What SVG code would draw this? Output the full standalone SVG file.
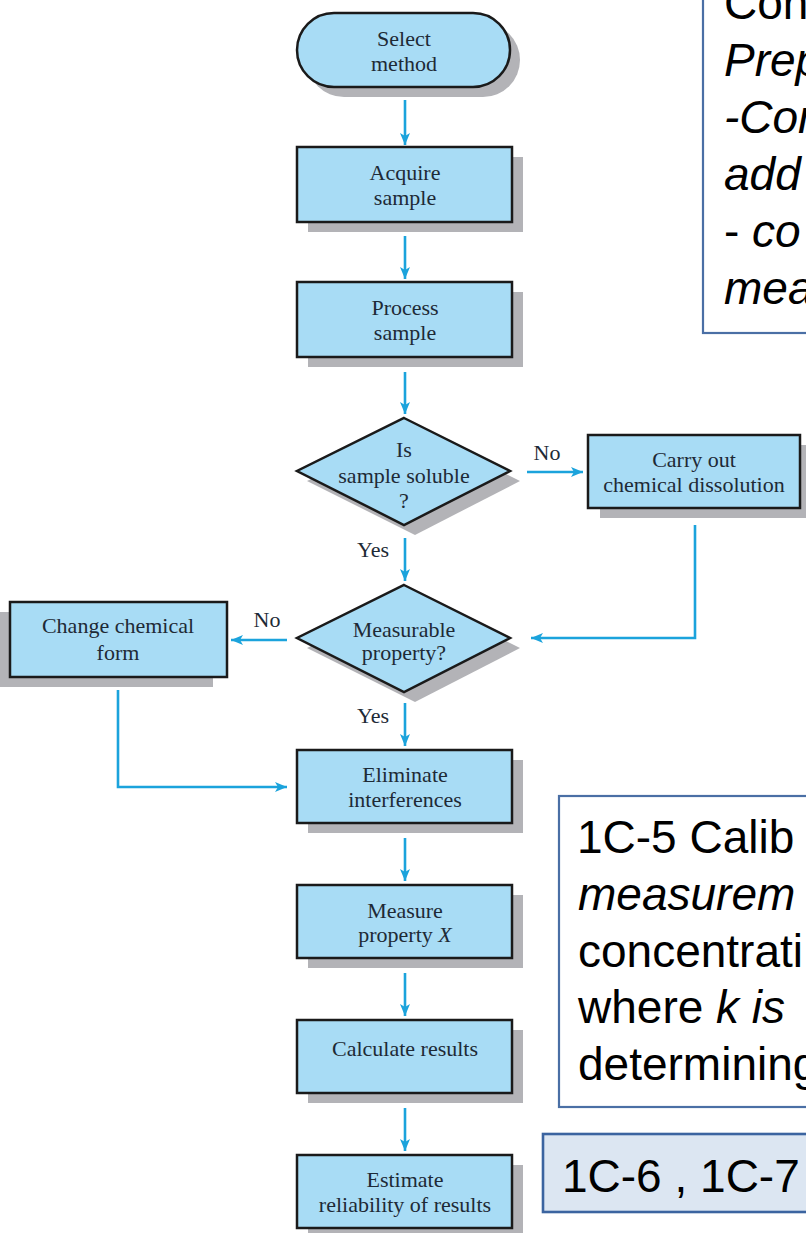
<svg xmlns="http://www.w3.org/2000/svg" width="806" height="1233" viewBox="0 0 806 1233">
<defs>
<style>
.node{fill:#a8dcf5;stroke:#1a1a1a;stroke-width:2.5}
.shadow{fill:#b3b3b7}
.lbl{font-family:"Liberation Serif","Times New Roman",serif;font-size:22px;fill:#1e2a36;text-anchor:middle}
.conn{fill:none;stroke:#1ba3dc;stroke-width:2.6}
.note{font-family:"Liberation Sans",Arial,sans-serif;font-size:46px;fill:#000}
.it{font-style:italic}
.box{fill:#fff;stroke:#4a6fa5;stroke-width:2.2}
</style>
<marker id="ah" markerUnits="userSpaceOnUse" markerWidth="13" markerHeight="10" refX="12" refY="5" orient="auto">
<path d="M0,0 L12,5 L0,10 L3,5 z" fill="#1ba3dc"/>
</marker>
</defs>
<rect width="806" height="1233" fill="#fff"/>

<g id="connectors">
<line class="conn" x1="405" y1="100" x2="405" y2="145" marker-end="url(#ah)"/>
<line class="conn" x1="405" y1="236" x2="405" y2="279" marker-end="url(#ah)"/>
<line class="conn" x1="405" y1="372" x2="405" y2="414" marker-end="url(#ah)"/>
<line class="conn" x1="405" y1="538" x2="405" y2="581" marker-end="url(#ah)"/>
<line class="conn" x1="405" y1="703" x2="405" y2="746" marker-end="url(#ah)"/>
<line class="conn" x1="405" y1="838" x2="405" y2="881" marker-end="url(#ah)"/>
<line class="conn" x1="405" y1="973" x2="405" y2="1016" marker-end="url(#ah)"/>
<line class="conn" x1="405" y1="1108" x2="405" y2="1151" marker-end="url(#ah)"/>
<line class="conn" x1="527" y1="472" x2="583" y2="472" marker-end="url(#ah)"/>
<polyline class="conn" points="695,525 695,638 531,638" marker-end="url(#ah)"/>
<line class="conn" x1="287" y1="640" x2="231" y2="640" marker-end="url(#ah)"/>
<polyline class="conn" points="118,690 118,787 287,787" marker-end="url(#ah)"/>
<text class="lbl" x="547" y="460">No</text>
<text class="lbl" x="373" y="557">Yes</text>
<text class="lbl" x="267" y="627">No</text>
<text class="lbl" x="373" y="723">Yes</text>
</g>

<g id="select-method">
<rect class="shadow" x="307" y="23" width="213" height="74" rx="37"/>
<rect class="node" x="297" y="13" width="213" height="74" rx="37"/>
<text class="lbl" x="404" y="46">Select</text>
<text class="lbl" x="404" y="71">method</text>
</g>

<g id="acquire-sample">
<rect class="shadow" x="308" y="157" width="215" height="75"/>
<rect class="node" x="297" y="147" width="215" height="75"/>
<text class="lbl" x="405" y="180">Acquire</text>
<text class="lbl" x="405" y="205">sample</text>
</g>

<g id="process-sample">
<rect class="shadow" x="308" y="292" width="215" height="75"/>
<rect class="node" x="297" y="282" width="215" height="75"/>
<text class="lbl" x="405" y="315">Process</text>
<text class="lbl" x="405" y="340">sample</text>
</g>

<g id="is-soluble">
<polygon class="shadow" points="415,428 520,481 415,535 307,481"/>
<polygon class="node" points="404,418 510,471 404,525 297,471"/>
<text class="lbl" x="404" y="457">Is</text>
<text class="lbl" x="404" y="483">sample soluble</text>
<text class="lbl" x="404" y="508">?</text>
</g>

<g id="chemical-dissolution">
<rect class="shadow" x="600" y="445" width="212" height="73"/>
<rect class="node" x="588" y="435" width="212" height="73"/>
<text class="lbl" x="694" y="467">Carry out</text>
<text class="lbl" x="694" y="492">chemical dissolution</text>
</g>

<g id="measurable-property">
<polygon class="shadow" points="415,595 520,648 415,702 307,648"/>
<polygon class="node" points="404,585 510,638 404,692 297,638"/>
<text class="lbl" x="404" y="637">Measurable</text>
<text class="lbl" x="404" y="660">property?</text>
</g>

<g id="change-chemical-form">
<rect class="shadow" x="-4" y="612" width="217" height="75"/>
<rect class="node" x="10" y="602" width="217" height="75"/>
<text class="lbl" x="118" y="633">Change chemical</text>
<text class="lbl" x="118" y="660">form</text>
</g>

<g id="eliminate-interferences">
<rect class="shadow" x="308" y="760" width="215" height="73"/>
<rect class="node" x="297" y="750" width="215" height="73"/>
<text class="lbl" x="405" y="782">Eliminate</text>
<text class="lbl" x="405" y="807">interferences</text>
</g>

<g id="measure-property">
<rect class="shadow" x="308" y="895" width="215" height="73"/>
<rect class="node" x="297" y="885" width="215" height="73"/>
<text class="lbl" x="405" y="918">Measure</text>
<text class="lbl" x="405" y="942">property <tspan font-style="italic">X</tspan></text>
</g>

<g id="calculate-results">
<rect class="shadow" x="308" y="1030" width="215" height="73"/>
<rect class="node" x="297" y="1020" width="215" height="73"/>
<text class="lbl" x="405" y="1056">Calculate results</text>
</g>

<g id="estimate-reliability">
<rect class="shadow" x="308" y="1165" width="215" height="73"/>
<rect class="node" x="297" y="1155" width="215" height="73"/>
<text class="lbl" x="405" y="1187">Estimate</text>
<text class="lbl" x="405" y="1212">reliability of results</text>
</g>

<g id="note-top">
<rect class="box" x="703" y="-10" width="130" height="343"/>
<text class="note" x="724" y="19">Con</text>
<text class="note it" x="724" y="76">Prep</text>
<text class="note it" x="724" y="133">-Con</text>
<text class="note it" x="724" y="190">add</text>
<text class="note" x="724" y="247">- <tspan class="it">co</tspan></text>
<text class="note it" x="724" y="304">mea</text>
</g>

<g id="note-calibration">
<rect class="box" x="559" y="796" width="270" height="311"/>
<text class="note" x="577" y="853">1C-5 Calib</text>
<text class="note it" x="578" y="910">measurem</text>
<text class="note" x="578" y="967">concentrati</text>
<text class="note" x="578" y="1023">where <tspan class="it">k is</tspan></text>
<text class="note" x="578" y="1080">determining</text>
</g>

<g id="note-refs">
<rect x="543" y="1134" width="290" height="78" fill="#dce6f2" stroke="#3b64a0" stroke-width="2.6"/>
<text class="note" x="562" y="1192">1C-6 , 1C-7</text>
</g>
</svg>
